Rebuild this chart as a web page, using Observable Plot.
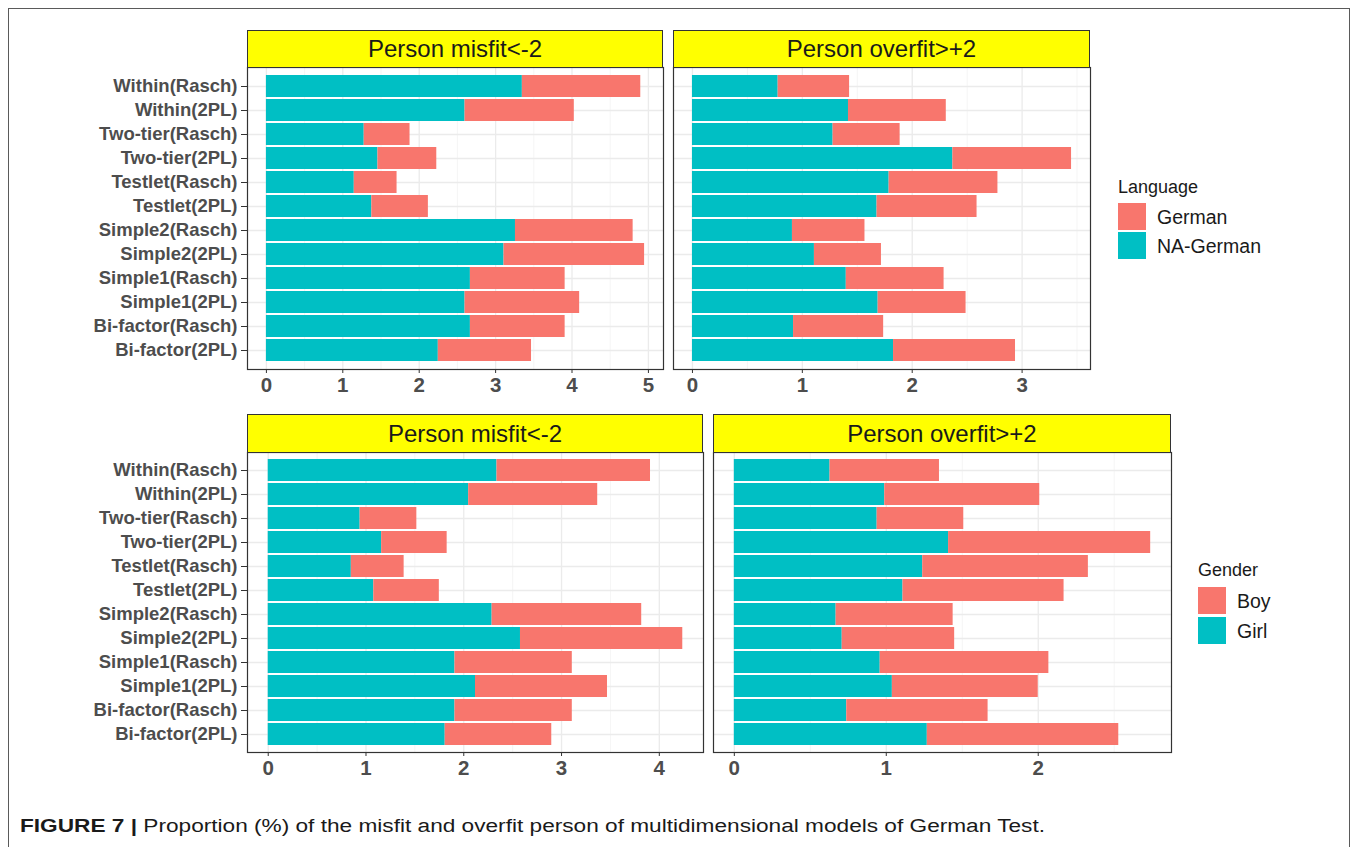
<!DOCTYPE html>
<html>
<head>
<meta charset="utf-8">
<script src="https://cdn.jsdelivr.net/npm/d3@7"></script>
<script src="https://cdn.jsdelivr.net/npm/@observablehq/plot@0.6"></script>
<style>
  html, body { margin: 0; padding: 0; background: #fff; overflow: hidden; }
  body { font-family: "Liberation Sans", Arial, sans-serif; }
  #figure { position: relative; width: 1358px; height: 847px; }
  .frame { position: absolute; left: 8px; top: 8px; width: 1340px; height: 900px;
           border: 1.5px solid #5a5a5a; }
  .panel { position: absolute; }
  .strip { position: absolute; box-sizing: border-box; background: #ffff00;
           border: 1.2px solid #333; display: flex; align-items: center;
           justify-content: center; font-size: 24px; color: #1a1a1a; }
  .legend-title { position: absolute; font-size: 18px; color: #1a1a1a; line-height: 1; }
  .legend-key { position: absolute; width: 28px; height: 27px; }
  .legend-label { position: absolute; font-size: 19.5px; color: #1a1a1a; line-height: 1; }
</style>
</head>
<body>
<div id="figure"><div class="frame"></div></div>
<script>
// Measurement models, listed top to bottom as they appear on the y axis
const models = [
  "Within(Rasch)", "Within(2PL)", "Two-tier(Rasch)", "Two-tier(2PL)",
  "Testlet(Rasch)", "Testlet(2PL)", "Simple2(Rasch)", "Simple2(2PL)",
  "Simple1(Rasch)", "Simple1(2PL)", "Bi-factor(Rasch)", "Bi-factor(2PL)"
];

const stripLabels = ["Person misfit<-2", "Person overfit>+2"];

// Language groups (%)
const languageGroups = ["German", "NA-German"];
const misfitNAGerman = [3.35, 2.60, 1.28, 1.46, 1.15, 1.38, 3.26, 3.11, 2.67, 2.60, 2.67, 2.25];
const misfitGerman   = [1.55, 1.43, 0.60, 0.77, 0.56, 0.74, 1.54, 1.84, 1.24, 1.50, 1.24, 1.22];
const overfitNAGerman = [0.78, 1.42, 1.28, 2.37, 1.79, 1.68, 0.91, 1.11, 1.40, 1.69, 0.92, 1.83];
const overfitGerman   = [0.65, 0.89, 0.61, 1.08, 0.99, 0.91, 0.66, 0.61, 0.89, 0.80, 0.82, 1.11];

// Gender groups (%)
const genderGroups = ["Boy", "Girl"];
const misfitGirl = [2.34, 2.05, 0.94, 1.16, 0.85, 1.08, 2.29, 2.58, 1.91, 2.12, 1.91, 1.81];
const misfitBoy  = [1.57, 1.32, 0.58, 0.67, 0.54, 0.67, 1.53, 1.66, 1.20, 1.35, 1.20, 1.09];
const overfitGirl = [0.63, 0.99, 0.94, 1.41, 1.24, 1.11, 0.67, 0.71, 0.96, 1.04, 0.74, 1.27];
const overfitBoy  = [0.72, 1.02, 0.57, 1.33, 1.09, 1.06, 0.77, 0.74, 1.11, 0.96, 0.93, 1.26];

const palette = ["#F8766D", "#00BFC4"];

const fig = document.getElementById("figure");

// Long-format rows: the base group first so it sits at zero in the stack
function toRows(baseName, baseValues, topName, topValues) {
  return [
    ...models.map((model, i) => ({model, group: baseName, value: baseValues[i]})),
    ...models.map((model, i) => ({model, group: topName, value: topValues[i]}))
  ];
}

function addPanel(rows, groups, box, stripTop, stripText, showY) {
  const totals = d3.rollups(rows, v => d3.sum(v, d => d.value), d => d.model).map(d => d[1]);
  const max = d3.max(totals);
  const domain = [-0.05 * max, 1.05 * max];
  const major = d3.range(0, Math.floor(domain[1]) + 1);
  const minor = d3.range(0.5, domain[1], 1);
  const mL = showY ? box.x0 : 4, mR = 4, mT = 2, mB = 34;

  const marks = [
    Plot.gridX(minor, {stroke: "#f2f2f2", strokeOpacity: 1, strokeWidth: 0.8}),
    Plot.gridX(major, {stroke: "#ebebeb", strokeOpacity: 1, strokeWidth: 1.3}),
    Plot.gridY({stroke: "#ebebeb", strokeOpacity: 1, strokeWidth: 1.3}),
    Plot.barX(rows, Plot.stackX({y: "model", x: "value", fill: "group"})),
    Plot.axisX({ticks: major, tickFormat: d3.format("d"), tickSize: 4, tickPadding: 4,
                fontSize: 20.5, fontWeight: "bold", stroke: "#333", fill: "#4d4d4d", label: null}),
    Plot.frame({stroke: "#333", strokeWidth: 1.2})
  ];
  if (showY) {
    marks.push(Plot.axisY({tickSize: 6, tickPadding: 4, fontSize: 18.5, fontWeight: "bold",
                           stroke: "#333", fill: "#4d4d4d", label: null}));
  }

  const chart = Plot.plot({
    width: box.x1 - box.x0 + mL + mR,
    height: box.y1 - box.y0 + mT + mB,
    marginLeft: mL, marginRight: mR, marginTop: mT, marginBottom: mB,
    style: {fontFamily: '"Liberation Sans", Arial, sans-serif', background: "transparent", overflow: "visible"},
    x: {domain, label: null},
    y: {domain: models, paddingInner: 0.1, paddingOuter: 0.15, label: null, axis: null},
    color: {domain: groups, range: palette},
    marks
  });

  const wrap = document.createElement("div");
  wrap.className = "panel";
  wrap.style.left = (box.x0 - mL) + "px";
  wrap.style.top = (box.y0 - mT) + "px";
  wrap.appendChild(chart);
  fig.appendChild(wrap);

  const strip = document.createElement("div");
  strip.className = "strip";
  strip.style.left = box.x0 + "px";
  strip.style.top = stripTop + "px";
  strip.style.width = (box.x1 - box.x0) + "px";
  strip.style.height = (box.y0 - stripTop + 1) + "px";
  strip.textContent = stripText;
  fig.appendChild(strip);
}

function addLegend(title, groups, x, titleTop, keyTop, keyStep) {
  const t = document.createElement("div");
  t.className = "legend-title";
  t.style.left = x + "px";
  t.style.top = titleTop + "px";
  t.textContent = title;
  fig.appendChild(t);
  groups.forEach((g, i) => {
    const k = document.createElement("div");
    k.className = "legend-key";
    k.style.left = x + "px";
    k.style.top = (keyTop + i * keyStep) + "px";
    k.style.background = palette[i];
    fig.appendChild(k);
    const l = document.createElement("div");
    l.className = "legend-label";
    l.style.left = (x + 39) + "px";
    l.style.top = (keyTop + i * keyStep + 5) + "px";
    l.textContent = g;
    fig.appendChild(l);
  });
}

// Top row: language
addPanel(toRows("NA-German", misfitNAGerman, "German", misfitGerman), languageGroups,
         {x0: 247, x1: 663, y0: 67, y1: 369}, 30, stripLabels[0], true);
addPanel(toRows("NA-German", overfitNAGerman, "German", overfitGerman), languageGroups,
         {x0: 673, x1: 1090, y0: 67, y1: 369}, 30, stripLabels[1], false);
addLegend("Language", languageGroups, 1118, 178, 203, 29);

// Bottom row: gender
addPanel(toRows("Girl", misfitGirl, "Boy", misfitBoy), genderGroups,
         {x0: 247, x1: 703, y0: 452, y1: 752}, 414, stripLabels[0], true);
addPanel(toRows("Girl", overfitGirl, "Boy", overfitBoy), genderGroups,
         {x0: 713, x1: 1171, y0: 452, y1: 752}, 414, stripLabels[1], false);
addLegend("Gender", genderGroups, 1198, 561, 587, 30);

// Figure caption
const ns = "http://www.w3.org/2000/svg";
const cap = document.createElementNS(ns, "svg");
cap.setAttribute("width", 1358);
cap.setAttribute("height", 40);
cap.style.position = "absolute";
cap.style.left = "0px";
cap.style.top = "810px";
const ctext = document.createElementNS(ns, "text");
ctext.setAttribute("x", 20);
ctext.setAttribute("y", 22);
ctext.setAttribute("font-size", 18);
ctext.setAttribute("font-family", '"Liberation Sans", Arial, sans-serif');
ctext.setAttribute("fill", "#1a1a1a");
ctext.setAttribute("textLength", 1025);
ctext.setAttribute("lengthAdjust", "spacingAndGlyphs");
const bold = document.createElementNS(ns, "tspan");
bold.setAttribute("font-weight", "bold");
bold.textContent = "FIGURE 7 | ";
const rest = document.createElementNS(ns, "tspan");
rest.textContent = "Proportion (%) of the misfit and overfit person of multidimensional models of German Test.";
ctext.appendChild(bold);
ctext.appendChild(rest);
cap.appendChild(ctext);
fig.appendChild(cap);
</script>
</body>
</html>
